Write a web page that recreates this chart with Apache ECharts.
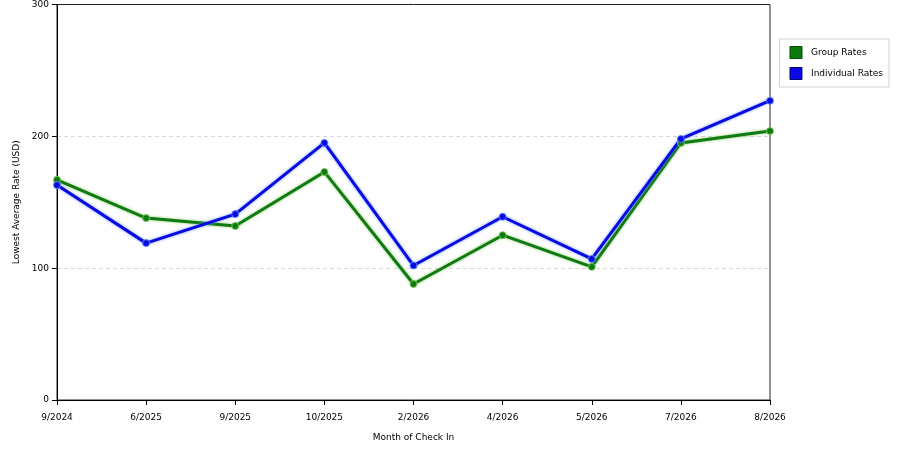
<!DOCTYPE html>
<html>
  <head>
    <meta charset="UTF-8" />
    <title></title>
    <style type="text/css">
      html,
      body {
        width: 100%;
        height: 100%;
        margin: 0;
        padding: 0;
        overflow: hidden;
        background: #fff;
      }
      #chart {
        width: 900px;
        height: 450px;
      }
    </style>
  </head>
  <body>
    <div id="chart"></div>
    <script src="https://cdn.jsdelivr.net/npm/echarts@6/dist/echarts.min.js"></script>
    <script type="text/javascript">
      const months = ["9/2024", "6/2025", "9/2025", "10/2025", "2/2026", "4/2026", "5/2026", "7/2026", "8/2026"];
      const groupRates = [167, 138, 132, 173, 88, 125, 101, 195, 204];
      const individualRates = [163, 119, 141, 195, 102, 139, 107, 198, 227];

      const font = "DejaVu Sans";
      const mychart = echarts.init(document.getElementById("chart"));

      const makeSeries = function (name, color, glow, data) {
        return {
          name: name,
          type: "line",
          data: data,
          symbol: "circle",
          symbolSize: 7,
          lineStyle: {
            color: color,
            width: 3,
            shadowColor: glow,
            shadowBlur: 3,
          },
          itemStyle: {
            color: color,
            borderColor: glow,
            borderWidth: 1,
          },
          emphasis: { disabled: true },
        };
      };

      const option = {
        backgroundColor: "#fff",
        animation: false,
        grid: {
          show: true,
          left: 57,
          right: 130,
          top: 4,
          bottom: 50,
          borderColor: "#222",
          borderWidth: 1,
        },
        legend: {
          orient: "vertical",
          right: 11,
          top: 39,
          padding: [7, 6, 7, 10],
          borderColor: "#d0d0d0",
          borderWidth: 1,
          itemWidth: 12,
          itemHeight: 12,
          itemGap: 8,
          icon: "rect",
          textStyle: { fontFamily: font, fontSize: 9, color: "#000", padding: [0, 0, 0, 4] },
          data: [
            { name: "Group Rates", itemStyle: { color: "#0a7a0a", borderColor: "#0a4a0a", borderWidth: 1 } },
            { name: "Individual Rates", itemStyle: { color: "#0a0ae6", borderColor: "#0a0a6a", borderWidth: 1 } },
          ],
        },
        xAxis: {
          type: "category",
          data: months,
          boundaryGap: false,
          name: "Month of Check In",
          nameLocation: "middle",
          nameGap: 33,
          nameTextStyle: { fontFamily: font, fontSize: 9, color: "#000" },
          axisLine: { lineStyle: { color: "#000", width: 1 } },
          axisTick: { show: true, length: 5, alignWithLabel: true, lineStyle: { color: "#000" } },
          axisLabel: { fontFamily: font, fontSize: 9, color: "#000", margin: 13, interval: 0 },
          splitLine: { show: false },
        },
        yAxis: {
          type: "value",
          min: 0,
          max: 300,
          interval: 100,
          name: "Lowest Average Rate (USD)",
          nameLocation: "middle",
          nameGap: 36,
          nameTextStyle: { fontFamily: font, fontSize: 9, color: "#000" },
          axisLine: { show: true, lineStyle: { color: "#000", width: 1 } },
          axisTick: { show: true, length: 5, lineStyle: { color: "#000" } },
          axisLabel: { fontFamily: font, fontSize: 9, color: "#000", margin: 8 },
          splitLine: {
            show: true,
            showMinLine: false,
            showMaxLine: false,
            lineStyle: { color: "#d8d8d8", type: [4, 3] },
          },
        },
        series: [
          makeSeries("Group Rates", "#127a12", "rgba(120,200,90,0.9)", groupRates),
          makeSeries("Individual Rates", "#0a0ae0", "rgba(90,140,255,0.9)", individualRates),
        ],
      };
      mychart.setOption(option);
    </script>
  </body>
</html>
